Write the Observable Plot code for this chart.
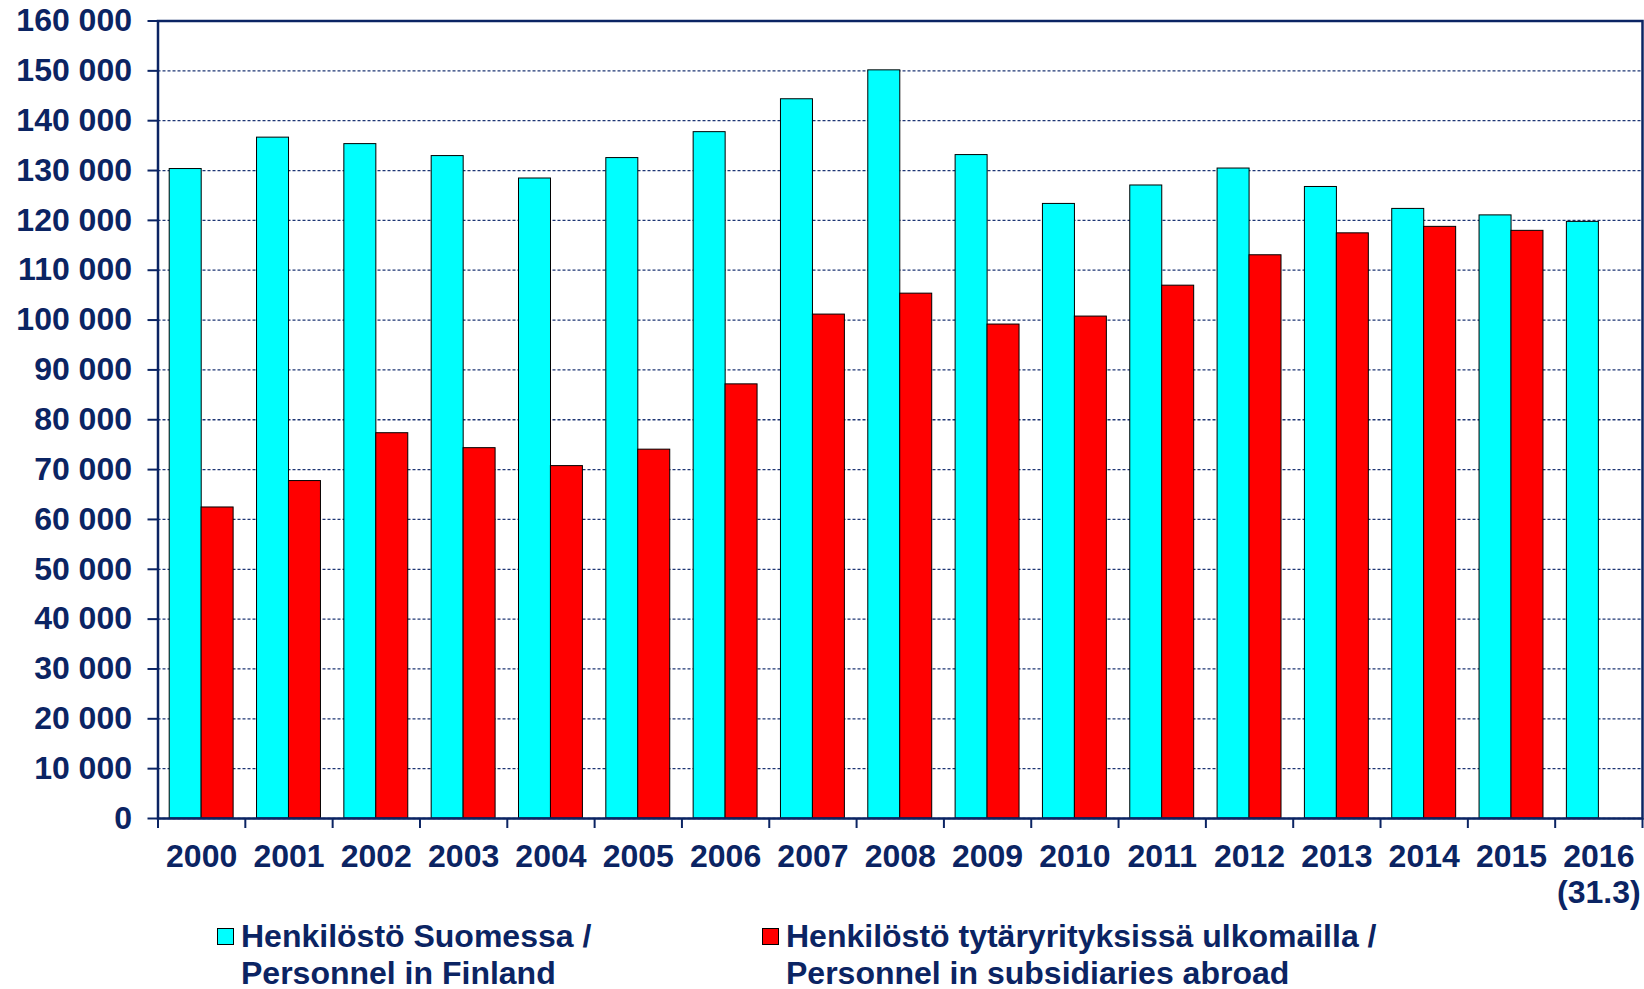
<!DOCTYPE html>
<html>
<head>
<meta charset="utf-8">
<script src="https://cdn.jsdelivr.net/npm/d3@7"></script>
<script src="https://cdn.jsdelivr.net/npm/@observablehq/plot@0.6"></script>
<style>
  html, body { margin: 0; padding: 0; background: #fff; }
  #wrap { position: relative; width: 1644px; }
  #legend { position: relative; height: 74px; font-family: "Liberation Sans", Arial, sans-serif; font-weight: bold; font-size: 32px; color: #0b2463; }
  .item { position: absolute; top: 3px; line-height: 37px; }
  .sw { position: absolute; left: 0; top: 10px; width: 15px; height: 15px; border: 1px solid #000; }
  .txt { position: absolute; left: 24px; white-space: nowrap; }
</style>
</head>
<body>
<div id="wrap">
  <div id="chart"></div>
  <div id="legend"></div>
</div>
<script>
const years = [2000, 2001, 2002, 2003, 2004, 2005, 2006, 2007, 2008, 2009, 2010, 2011, 2012, 2013, 2014, 2015, 2016];
const yearLabels = ["2000", "2001", "2002", "2003", "2004", "2005", "2006", "2007", "2008", "2009", "2010", "2011", "2012", "2013", "2014", "2015", "2016\n(31.3)"];
const boundaries = [2000, 2001, 2002, 2003, 2004, 2005, 2006, 2007, 2008, 2009, 2010, 2011, 2012, 2013, 2014, 2015, 2016, 2017];
const personnelFinland = [130300, 136600, 135300, 132900, 128400, 132500, 137700, 144300, 150100, 133100, 123300, 127000, 130400, 126700, 122300, 121000, 119700];
const personnelAbroad = [62400, 67700, 77300, 74300, 70700, 74000, 87100, 101100, 105300, 99100, 100700, 106900, 113000, 117400, 118700, 117900, null];
const yTicks = [0, 10000, 20000, 30000, 40000, 50000, 60000, 70000, 80000, 90000, 100000, 110000, 120000, 130000, 140000, 150000, 160000];
const seriesNames = ["Henkilöstö Suomessa /\nPersonnel in Finland", "Henkilöstö tytäryrityksissä ulkomailla /\nPersonnel in subsidiaries abroad"];
const seriesColors = ["#00ffff", "#ff0000"];

const navy = "#0b2463";
const W = 1644, H = 915;
const mL = 157.5, mR = 2, mT = 20.5, mB = 97;
const band = (W - mL - mR) / years.length;
const fmt = d3.formatLocale({thousands: " ", grouping: [3], decimal: ","}).format(",");

const finData = years.map((y, i) => ({year: y, value: personnelFinland[i]}));
const abrData = years.map((y, i) => ({year: y, value: personnelAbroad[i]})).filter(d => d.value != null);
const labelOf = new Map(years.map((y, i) => [y, yearLabels[i]]));

const chart = Plot.plot({
  width: W,
  height: H,
  marginLeft: mL,
  marginRight: mR,
  marginTop: mT,
  marginBottom: mB,
  style: {fontFamily: "'Liberation Sans', Arial, sans-serif", fontWeight: "bold", color: navy, background: "#fff"},
  x: {type: "linear", domain: [2000, 2017]},
  y: {domain: [0, 160000]},
  marks: [
    Plot.gridY(yTicks, {stroke: "#1e3674", strokeOpacity: 1, strokeWidth: 1.3, strokeDasharray: "3,2"}),
    Plot.rectY(finData, {x1: "year", x2: d => d.year + 1, y: "value", fill: seriesColors[0], stroke: "#000", strokeWidth: 1, insetLeft: 11.7, insetRight: band - 11.7 - 32}),
    Plot.rectY(abrData, {x1: "year", x2: d => d.year + 1, y: "value", fill: seriesColors[1], stroke: "#000", strokeWidth: 1, insetLeft: band - 11.7 - 32, insetRight: 11.7}),
    Plot.frame({stroke: navy, strokeWidth: 2.5}),
    Plot.axisY({ticks: yTicks, tickFormat: fmt, tickSize: 10, tickPadding: 16, stroke: navy, strokeWidth: 2, fontSize: 32, fill: navy, label: null}),
    Plot.axisX({ticks: boundaries, tickFormat: null, text: null, tickSize: 10, stroke: navy, strokeWidth: 2, label: null}),
    Plot.axisX({ticks: years, tickFormat: d => labelOf.get(d), tickSize: 0, tickPadding: 22, dx: band / 2, fontSize: 32, fill: navy, lineHeight: 1.15, lineAnchor: "top", label: null})
  ]
});
document.getElementById("chart").append(chart);

const legend = document.getElementById("legend");
const positions = [217, 762];
seriesNames.forEach((name, i) => {
  const item = document.createElement("div");
  item.className = "item";
  item.style.left = positions[i] + "px";
  const sw = document.createElement("div");
  sw.className = "sw";
  sw.style.background = seriesColors[i];
  const txt = document.createElement("div");
  txt.className = "txt";
  txt.innerHTML = name.split("\n").join("<br>");
  item.append(sw, txt);
  legend.append(item);
});
</script>
</body>
</html>
